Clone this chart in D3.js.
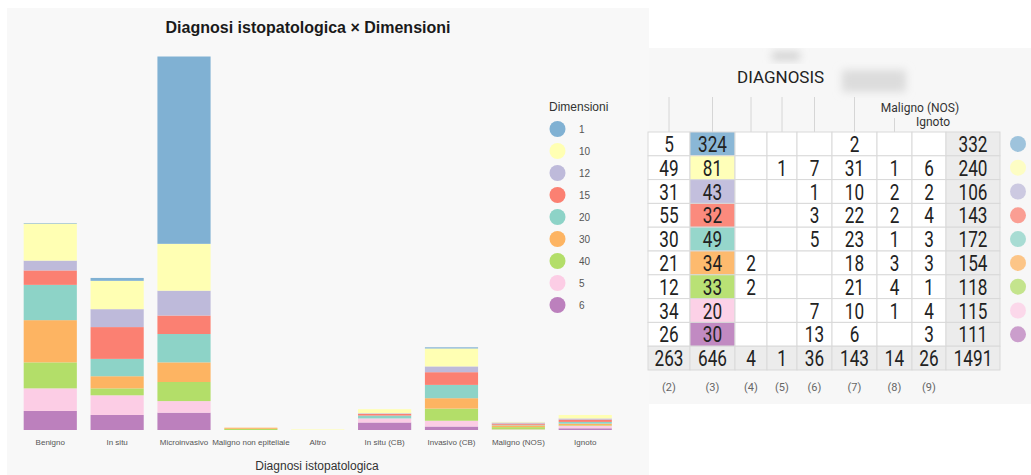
<!DOCTYPE html>
<html>
<head>
<meta charset="utf-8">
<script src="https://cdn.jsdelivr.net/npm/d3@7"></script>
<style>
  html, body { margin: 0; padding: 0; background: #ffffff; }
  svg { display: block; }
</style>
</head>
<body>
<svg id="view" width="1031" height="475"></svg>
<script>
// Histological diagnosis categories (x axis / table columns)
const categories = ["Benigno", "In situ", "Microinvasivo", "Maligno non epiteliale", "Altro",
                    "In situ (CB)", "Invasivo (CB)", "Maligno (NOS)", "Ignoto"];
// Size classes (stack series / table rows)
const dimensions = ["1", "10", "12", "15", "20", "30", "40", "5", "6"];

// Counts per size class, one value per diagnosis category
const dim1  = [1, 5, 324, 0, 0, 0, 2, 0, 0];
const dim10 = [64, 49, 81, 0, 1, 7, 31, 1, 6];
const dim12 = [17, 31, 43, 0, 0, 1, 10, 2, 2];
const dim15 = [25, 55, 32, 0, 0, 3, 22, 2, 4];
const dim20 = [61, 30, 49, 0, 0, 5, 23, 1, 3];
const dim30 = [73, 21, 34, 2, 0, 0, 18, 3, 3];
const dim40 = [45, 12, 33, 2, 0, 0, 21, 4, 1];
const dim5  = [39, 34, 20, 0, 0, 7, 10, 1, 4];
const dim6  = [33, 26, 30, 0, 0, 13, 6, 0, 3];

// Column codes printed under the cross table
const tableColumnLabels = ["(2)", "(3)", "(4)", "(5)", "(6)", "(7)", "(8)", "(9)"];

const seriesValues = [dim1, dim10, dim12, dim15, dim20, dim30, dim40, dim5, dim6];
const rows = categories.map((c, i) => {
  const r = { category: c };
  dimensions.forEach((d, j) => { r[d] = seriesValues[j][i]; });
  return r;
});

const palette = ["#80b1d3", "#ffffb3", "#bebada", "#fb8072", "#8dd3c7",
                 "#fdb462", "#b3de69", "#fccde5", "#bc80bd"];
const color = d3.scaleOrdinal().domain(dimensions).range(palette);

const svg = d3.select("#view");
const sans = "'Liberation Sans', Arial, sans-serif";
const robo = "Roboto, 'Noto Sans', sans-serif";

// ---------- Left panel: stacked bar chart ----------
const panel = { x0: 7, y0: 8, x1: 649, y1: 475 };
svg.append("rect")
  .attr("x", panel.x0).attr("y", panel.y0)
  .attr("width", panel.x1 - panel.x0).attr("height", panel.y1 - panel.y0)
  .attr("fill", "#f8f8f8");

svg.append("text")
  .attr("x", 308).attr("y", 33)
  .attr("text-anchor", "middle")
  .attr("font-family", sans).attr("font-size", 16).attr("font-weight", "bold")
  .attr("fill", "#1a1a1a")
  .text("Diagnosi istopatologica \u00d7 Dimensioni");

// stack bottom-up: last size class in the legend sits at the bottom
const stack = d3.stack().keys(dimensions.slice().reverse());
const stacked = stack(rows);
const maxTotal = d3.max(rows, r => d3.sum(dimensions, d => r[d]));

const x = d3.scaleBand().domain(categories).range([17, 618.5]).paddingInner(0.205).paddingOuter(0.1);
const y = d3.scaleLinear().domain([0, maxTotal]).range([430, 56.5]);

svg.append("g")
  .selectAll("g")
  .data(stacked)
  .join("g")
  .attr("fill", s => color(s.key))
  .selectAll("rect")
  .data(s => s)
  .join("rect")
  .attr("x", d => x(d.data.category))
  .attr("width", x.bandwidth())
  .attr("y", d => y(d[1]))
  .attr("height", d => Math.max(0, y(d[0]) - y(d[1])));

const xAxis = svg.append("g")
  .attr("transform", "translate(0,436)")
  .call(d3.axisBottom(x).tickSize(0).tickPadding(0));
xAxis.select(".domain").remove();
xAxis.selectAll("text")
  .attr("dy", "0.75em")
  .attr("y", 3)
  .attr("font-family", sans).attr("font-size", 8).attr("fill", "#555");

svg.append("text")
  .attr("x", 317).attr("y", 470)
  .attr("text-anchor", "middle")
  .attr("font-family", sans).attr("font-size", 12).attr("fill", "#333")
  .text("Diagnosi istopatologica");

// legend
const legend = svg.append("g").attr("transform", "translate(549,0)");
legend.append("text")
  .attr("x", 0).attr("y", 111)
  .attr("font-family", sans).attr("font-size", 12).attr("fill", "#333")
  .text("Dimensioni");
const legendY = d3.scalePoint().domain(dimensions).range([129, 305]);
const li = legend.selectAll("g.item").data(dimensions).join("g")
  .attr("class", "item")
  .attr("transform", d => `translate(0,${legendY(d)})`);
li.append("circle").attr("cx", 8.5).attr("cy", 0).attr("r", 8).attr("fill", d => color(d));
li.append("text")
  .attr("x", 30).attr("y", 3.5)
  .attr("font-family", sans).attr("font-size", 10).attr("fill", "#555")
  .text(d => d);

// ---------- Right panel: cross table ----------
const tbl = { x0: 649, y0: 48, x1: 1031, y1: 404 };
svg.append("rect")
  .attr("x", tbl.x0).attr("y", tbl.y0)
  .attr("width", tbl.x1 - tbl.x0).attr("height", tbl.y1 - tbl.y0)
  .attr("fill", "#f7f7f7");

// soft redacted patches in the title band
const defs = svg.append("defs");
defs.append("filter").attr("id", "soft").attr("x", "-50%").attr("y", "-50%")
  .attr("width", "200%").attr("height", "200%")
  .append("feGaussianBlur").attr("stdDeviation", 4);
svg.append("rect").attr("x", 842).attr("y", 70).attr("width", 64).attr("height", 22)
  .attr("fill", "#dcdcdc").attr("filter", "url(#soft)");
svg.append("rect").attr("x", 772).attr("y", 52).attr("width", 28).attr("height", 8)
  .attr("fill", "#cfcfcf").attr("filter", "url(#soft)");

svg.append("text")
  .attr("x", 737).attr("y", 83)
  .attr("font-family", robo).attr("font-size", 17).attr("fill", "#222")
  .text("DIAGNOSIS");

// visible table columns: categories 2..9 plus the row total
const tableCats = categories.slice(1);
const columnWidths = [42, 45, 32, 30, 35, 45, 35, 34, 54];
const colKeys = [...tableCats, "total"];
const colEdges = [648];
columnWidths.forEach(w => colEdges.push(colEdges[colEdges.length - 1] + w));
const colX = d3.scaleOrdinal().domain(colKeys).range(colEdges.slice(0, -1));
const colW = d3.scaleOrdinal().domain(colKeys).range(columnWidths);
const rowKeys = [...dimensions, "total"];
const rowY = d3.scaleBand().domain(rowKeys).range([132, 370]);

// header guide lines above the columns
const headerTop = d3.scaleOrdinal().domain(tableCats)
  .range([97, 97, 97, 97, 97, 97, 118, 132]);
svg.append("g").selectAll("line").data(tableCats.slice(0, 7)).join("line")
  .attr("x1", c => colX(c) + colW(c) / 2).attr("x2", c => colX(c) + colW(c) / 2)
  .attr("y1", c => headerTop(c)).attr("y2", 132)
  .attr("stroke", "#d6d6d6").attr("stroke-width", 1);
svg.append("text").attr("x", 920).attr("y", 112).attr("text-anchor", "middle")
  .attr("font-family", robo).attr("font-size", 12).attr("fill", "#333")
  .text(categories[7]);
svg.append("text").attr("x", 933).attr("y", 126).attr("text-anchor", "middle")
  .attr("font-family", robo).attr("font-size", 12).attr("fill", "#333")
  .text(categories[8]);

// cell records
const cells = [];
rowKeys.forEach((rk, ri) => {
  colKeys.forEach(ck => {
    let v;
    if (rk === "total" && ck === "total") v = d3.sum(seriesValues, s => d3.sum(s));
    else if (rk === "total") v = d3.sum(seriesValues, s => s[categories.indexOf(ck)]);
    else if (ck === "total") v = d3.sum(seriesValues[ri]);
    else v = seriesValues[ri][categories.indexOf(ck)];
    let fill = "#ffffff";
    if (rk === "total" || ck === "total") fill = "#ececec";
    else if (ck === categories[2]) fill = color(rk);
    cells.push({ rk, ck, v, fill });
  });
});

const cg = svg.append("g");
cg.selectAll("rect").data(cells).join("rect")
  .attr("x", d => colX(d.ck)).attr("y", d => rowY(d.rk))
  .attr("width", d => colW(d.ck)).attr("height", rowY.bandwidth())
  .attr("fill", d => d.fill).attr("fill-opacity", d => d.ck === categories[2] && d.rk !== "total" ? 0.92 : 1)
  .attr("stroke", "#d9d9d9").attr("stroke-width", 1);

cg.selectAll("text").data(cells.filter(d => d.v > 0)).join("text")
  .attr("transform", d => `translate(${colX(d.ck) + colW(d.ck) / 2},${rowY(d.rk) + rowY.bandwidth() / 2 + 8}) scale(0.78,1)`)
  .attr("text-anchor", "middle")
  .attr("font-family", robo).attr("font-size", 22).attr("fill", "#222")
  .text(d => d.v);

// column codes under the table
svg.append("g").selectAll("text").data(tableCats.slice(0, 8)).join("text")
  .attr("x", (c) => colX(c) + colW(c) / 2).attr("y", 391)
  .attr("text-anchor", "middle")
  .attr("font-family", robo).attr("font-size", 11).attr("fill", "#666")
  .text((c, i) => tableColumnLabels[i]);

// row colour keys at the right edge
svg.append("g").selectAll("circle").data(dimensions).join("circle")
  .attr("cx", 1018).attr("cy", d => rowY(d) + rowY.bandwidth() / 2)
  .attr("r", 8).attr("fill", d => color(d)).attr("fill-opacity", 0.75);
</script>
</body>
</html>
